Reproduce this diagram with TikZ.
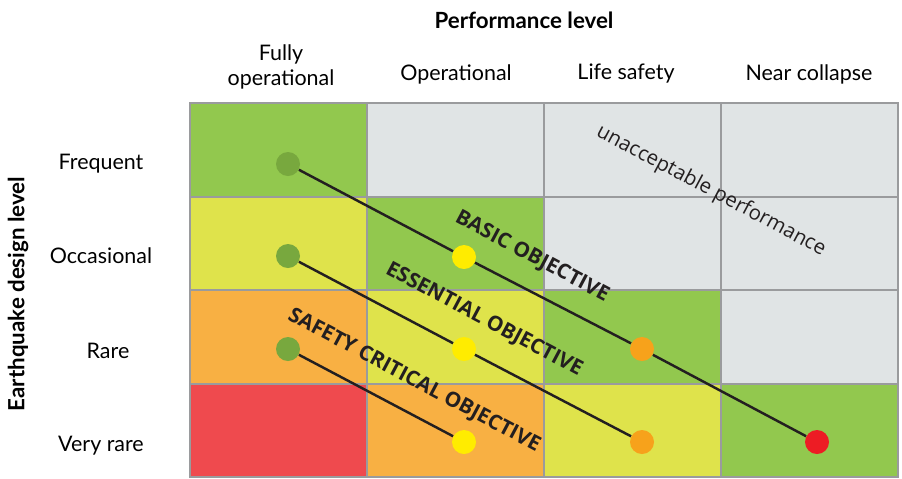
\documentclass[tikz,border=0pt]{standalone}
\usepackage{fontspec}
\setmainfont{Lato}
\newfontfamily\objfont{Open Sans}
\usetikzlibrary{positioning}
\definecolor{okGreen}{HTML}{92C84E}
\definecolor{midYellow}{HTML}{DFE34B}
\definecolor{warnOrange}{HTML}{F8B043}
\definecolor{badRed}{HTML}{EF4A4E}
\definecolor{noGray}{HTML}{E0E4E5}
\definecolor{gridGray}{HTML}{9A9B9D}
\definecolor{inkDark}{HTML}{231F20}
\definecolor{dotGreen}{HTML}{78A83E}
\definecolor{dotYellow}{HTML}{FFEC00}
\definecolor{dotOrange}{HTML}{F7A21B}
\definecolor{dotRed}{HTML}{ED1C24}

\begin{document}
\begin{tikzpicture}[x=0.02cm, y=-0.02cm, font=\fontsize{12.2}{14.5}\selectfont,
    cell/.style={rectangle, draw=gridGray, line width=1.1pt, inner sep=0pt,
      minimum width=3.54cm, minimum height=1.87cm},
    dot/.style={circle, inner sep=0pt, minimum size=0.48cm},
    objline/.style={draw=inkDark, line width=1.4pt},
    heading/.style={font=\bfseries\fontsize{12.7}{15}\selectfont},
    objective/.style={font=\objfont\bfseries\fontsize{11.8}{14}\selectfont, text=inkDark, rotate=-28}]
    \useasboundingbox (0,0) rectangle (902,478);
    % --- headings ---
    \node[heading] (perf) at (524,20) {Performance level};
    \node[align=center] (h1) at (281,67) {Fully\\operational};
    \node (h2) at (456,74) {Operational};
    \node (h3) at (626,74) {Life safety};
    \node (h4) at (809,74) {Near collapse};
    \node[heading, rotate=90] (eq) at (18,294) {Earthquake design level};
    \node (r1) at (101,164) {Frequent};
    \node (r2) at (101,256) {Occasional};
    \node (r3) at (108,351) {Rare};
    \node (r4) at (101,446) {Very rare};
    % --- matrix of cells ---
    \node[cell, fill=okGreen]    (c11) at (278.5,150) {};
    \node[cell, fill=noGray]     (c12) at (455.5,150) {};
    \node[cell, fill=noGray]     (c13) at (632.5,150) {};
    \node[cell, fill=noGray]     (c14) at (809.5,150) {};
    \node[cell, fill=midYellow]  (c21) at (278.5,243.5) {};
    \node[cell, fill=okGreen]    (c22) at (455.5,243.5) {};
    \node[cell, fill=noGray]     (c23) at (632.5,243.5) {};
    \node[cell, fill=noGray]     (c24) at (809.5,243.5) {};
    \node[cell, fill=warnOrange] (c31) at (278.5,337) {};
    \node[cell, fill=midYellow]  (c32) at (455.5,337) {};
    \node[cell, fill=okGreen]    (c33) at (632.5,337) {};
    \node[cell, fill=noGray]     (c34) at (809.5,337) {};
    \node[cell, fill=badRed]     (c41) at (278.5,430.5) {};
    \node[cell, fill=warnOrange] (c42) at (455.5,430.5) {};
    \node[cell, fill=midYellow]  (c43) at (632.5,430.5) {};
    \node[cell, fill=okGreen]    (c44) at (809.5,430.5) {};
    % --- objective points ---
    \node[dot, fill=dotGreen]  (b1) at (288,164) {};
    \node[dot, fill=dotYellow] (b2) at (464,257) {};
    \node[dot, fill=dotOrange] (b3) at (642,349) {};
    \node[dot, fill=dotRed]    (b4) at (817,442) {};
    \node[dot, fill=dotGreen]  (e1) at (288,256) {};
    \node[dot, fill=dotYellow] (e2) at (464,349) {};
    \node[dot, fill=dotOrange] (e3) at (642,442) {};
    \node[dot, fill=dotGreen]  (s1) at (288,349) {};
    \node[dot, fill=dotYellow] (s2) at (464,442) {};
    \draw[objline] (b1) -- (b2) -- (b3) -- (b4);
    \draw[objline] (e1) -- (e2) -- (e3);
    \draw[objline] (s1) -- (s2);
    % --- labels along the lines ---
    \node[objective] (basic) at (532,257) {BASIC OBJECTIVE};
    \node[objective] (essential) at (484,320) {ESSENTIAL OBJECTIVE};
    \node[objective] (safety) at (414,381) {SAFETY CRITICAL OBJECTIVE};
    \node[font=\objfont\fontsize{11.6}{14}\selectfont, text=inkDark, rotate=-28] (unacc) at (711,191) {unacceptable performance};
  \end{tikzpicture}
\end{document}
